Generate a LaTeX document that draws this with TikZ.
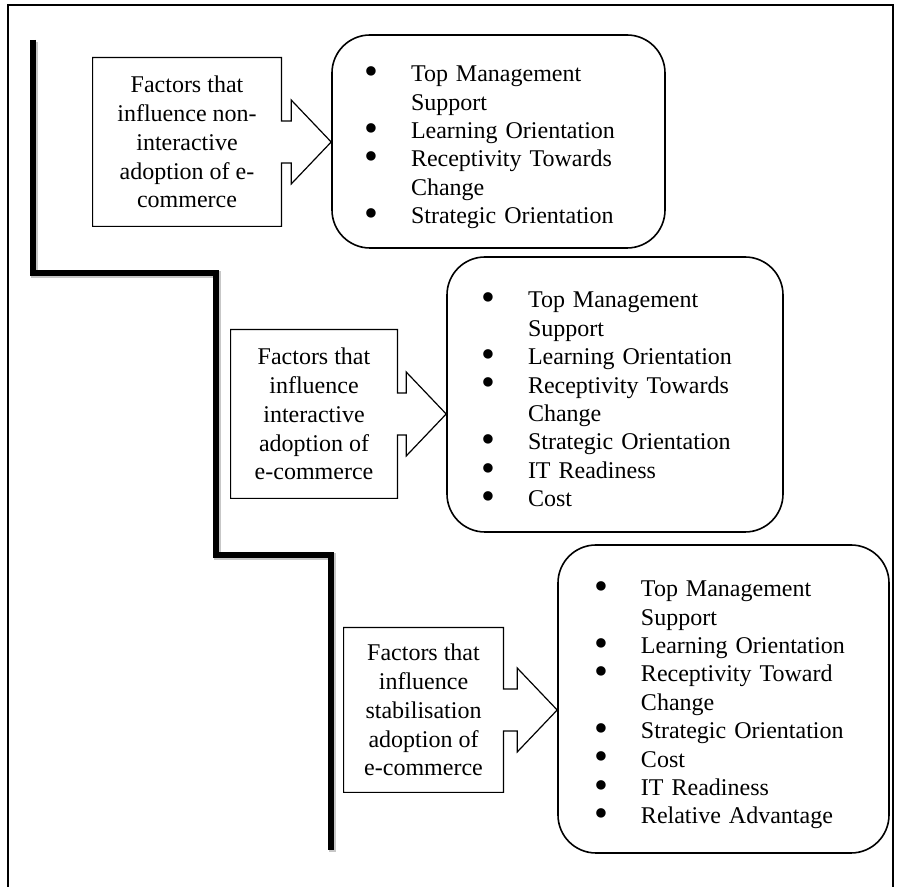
\documentclass[tikz,border=0pt]{standalone}
\usepackage{fontspec}
\setmainfont{Liberation Serif}
\usetikzlibrary{calc}
\tikzset{
  pageframe/.style={draw=black, line width=1.1pt},
  stair/.style={draw=black, line width=3pt},
  stairshadow/.style={draw=black!22, line width=3.6pt},
  factorbox/.style={align=center, inner sep=0pt, font=\fontsize{12}{14.4}\selectfont},
  callout/.style={draw=black, line width=0.6pt, line join=miter},
  listbox/.style={draw=black, line width=0.8pt, rounded corners=19pt},
  listtext/.style={align=left, inner sep=0pt, font=\fontsize{12}{14.2}\selectfont}
}
\newcommand{\itembul}{\makebox[22.5pt][l]{\hspace*{-0.6pt}\smash{\raisebox{-0.12em}{\scalebox{1.65}{\textbullet}}}}}
\newcommand{\itemind}{\hspace*{22.5pt}}

\begin{document}
\begin{tikzpicture}[x=0.5pt, y=-0.5pt]
\useasboundingbox (0,0) rectangle (902,887);
\draw[pageframe] (8,887) -- (8,5) -- (893,5) -- (893,887);
% staircase
\draw[stairshadow, shift={(1.6,1.6)}] (33,40) -- (33,273) -- (216,273) -- (216,555) -- (331,555) -- (331,850);
\draw[stair] (33,40) -- (33,273) -- (216,273) -- (216,555) -- (331,555) -- (331,850);
% stage 1
\node[factorbox, minimum width=94pt, minimum height=84pt] (f1) at (187,142) {Factors that\\influence non-\\interactive\\adoption of e-\\commerce};
\node[listbox, minimum width=166.5pt, minimum height=106.5pt] (l1) at (498.5,141.5) {};
\node[listtext, text width=132.5pt] (t1) at ($(l1.center)+(0,6)$)
  {\itembul Top Management\\ \itemind Support\\ \itembul Learning Orientation\\ \itembul Receptivity Towards\\ \itemind Change\\ \itembul Strategic Orientation};
% stage 2
\node[factorbox, minimum width=83pt, minimum height=84pt] (f2) at (314,414) {Factors that\\influence\\interactive\\adoption of\\e-commerce};
\node[listbox, minimum width=168pt, minimum height=137.5pt] (l2) at (615,394.5) {};
\node[listtext, text width=132pt] (t2) at ($(l2.center)+(0,5)$)
  {\itembul Top Management\\ \itemind Support\\ \itembul Learning Orientation\\ \itembul Receptivity Towards\\ \itemind Change\\ \itembul Strategic Orientation\\ \itembul IT Readiness\\ \itembul Cost};
% stage 3
\node[factorbox, minimum width=79.5pt, minimum height=82pt] (f3) at (423.5,710) {Factors that\\influence\\stabilisation\\adoption of\\e-commerce};
\node[listbox, minimum width=165.5pt, minimum height=154pt] (l3) at (723.5,699) {};
\node[listtext, text width=127.5pt] (t3) at ($(l3.center)+(0,6)$)
  {\itembul Top Management\\ \itemind Support\\ \itembul Learning Orientation\\ \itembul Receptivity Toward\\ \itemind Change\\ \itembul Strategic Orientation\\ \itembul Cost\\ \itembul IT Readiness\\ \itembul Relative Advantage};
% arrow callouts
\foreach \i in {1,2,3}{
  \draw[callout] (f\i.north west) -- (f\i.north east) -- ($(f\i.east)+(0,-21)$)
    -- ($(f\i.east -| l\i.west)+(-40,-21)$) -- ($(f\i.east -| l\i.west)+(-40,-42)$)
    -- (f\i.east -| l\i.west)
    -- ($(f\i.east -| l\i.west)+(-40,42)$) -- ($(f\i.east -| l\i.west)+(-40,21)$)
    -- ($(f\i.east)+(0,21)$) -- (f\i.south east) -- (f\i.south west) -- cycle;
}
\end{tikzpicture}
\end{document}
